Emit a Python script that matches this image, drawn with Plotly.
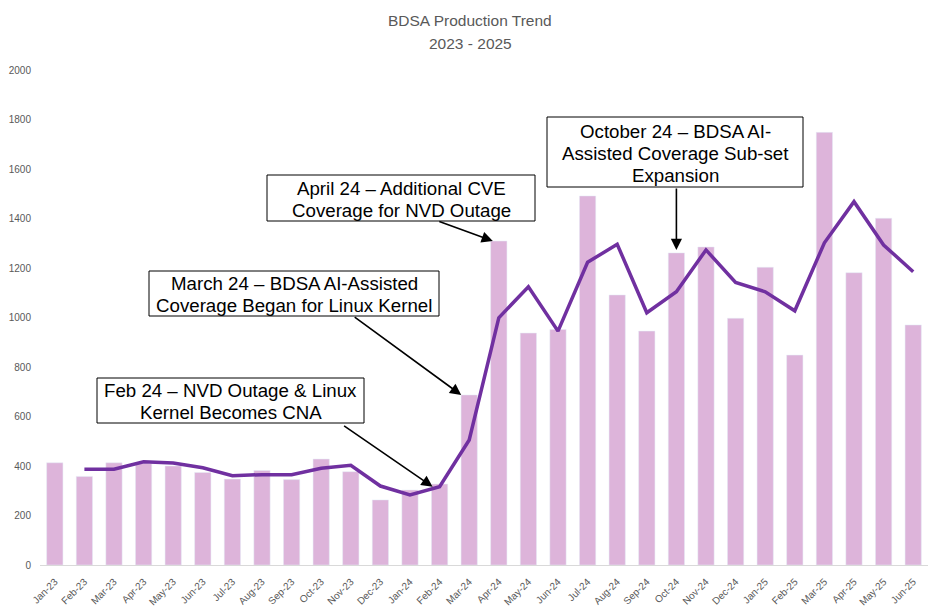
import plotly.graph_objects as go

MONTHS = [
    "Jan-23", "Feb-23", "Mar-23", "Apr-23", "May-23", "Jun-23",
    "Jul-23", "Aug-23", "Sep-23", "Oct-23", "Nov-23", "Dec-23",
    "Jan-24", "Feb-24", "Mar-24", "Apr-24", "May-24", "Jun-24",
    "Jul-24", "Aug-24", "Sep-24", "Oct-24", "Nov-24", "Dec-24",
    "Jan-25", "Feb-25", "Mar-25", "Apr-25", "May-25", "Jun-25",
]
bdsa_counts = [
    413, 358, 413, 410, 400, 374, 347, 382, 345, 428, 377, 263,
    303, 327, 687, 1309, 937, 952, 1491, 1091, 945, 1261, 1285, 997,
    1203, 848, 1748, 1181, 1401, 970,
]
# trend line (starts at Feb-23)
trend_counts = [
    None, 387, 387, 417, 412, 393, 361, 365, 365, 391, 403, 319,
    283, 316, 505, 999, 1124, 945, 1223, 1296, 1019, 1104, 1273, 1142,
    1104, 1027, 1302, 1468, 1293, 1185,
]
y_ticks = [0, 200, 400, 600, 800, 1000, 1200, 1400, 1600, 1800, 2000]
title_lines = ["BDSA Production Trend", "2023 - 2025"]

BAR_COLOR = "#DDB4DA"
LINE_COLOR = "#7030A0"
GREY = "#595959"
SANS = "Liberation Sans, Arial, sans-serif"
NOTE_FONT = dict(family=SANS, size=18.7, color="black")

W, H = 938, 612
PAGE_OFFSET = 8  # browser body margin
MARGIN = dict(l=32, r=18, t=62, b=55)
PW = W - MARGIN["l"] - MARGIN["r"]
PH = H - MARGIN["t"] - MARGIN["b"]


def to_paper(px, py):
    # page pixel -> paper coords
    fx, fy = px - PAGE_OFFSET, py - PAGE_OFFSET
    return (fx - MARGIN["l"]) / PW, (H - MARGIN["b"] - fy) / PH


fig = go.Figure()
fig.add_trace(go.Bar(x=MONTHS, y=bdsa_counts, marker_color=BAR_COLOR, name="BDSAs"))
fig.add_trace(
    go.Scatter(
        x=MONTHS, y=trend_counts, mode="lines",
        line=dict(color=LINE_COLOR, width=3.5), name="Trend"
    )
)

annotations = []
shapes = []

# title, one annotation per line
for text, py in zip(title_lines, [20, 43]):
    xp, yp = to_paper(470, py)
    annotations.append(dict(
        text=text, xref="paper", yref="paper", x=xp, y=yp,
        xanchor="center", yanchor="middle", showarrow=False,
        font=dict(family=SANS, size=15.5, color=GREY),
    ))

# callout boxes: (lines, left, top, right, bottom) in page pixels
notes = [
    (["Feb 24 – NVD Outage & Linux", "Kernel Becomes CNA"], 97, 378, 364, 423),
    (["March 24 – BDSA AI-Assisted", "Coverage Began for Linux Kernel"], 149, 271, 439, 316),
    (["April 24 – Additional CVE", "Coverage for NVD Outage"], 267, 175, 535, 221),
    (["October 24 – BDSA AI-", "Assisted Coverage Sub-set", "Expansion"], 547, 117, 803, 187),
]
for lines, x0, y0, x1, y1 in notes:
    px0, py0 = to_paper(x0, y0)
    px1, py1 = to_paper(x1, y1)
    shapes.append(dict(
        type="rect", xref="paper", yref="paper",
        x0=px0, y0=py1, x1=px1, y1=py0,
        line=dict(color="black", width=1), fillcolor="white", layer="above",
    ))
    cx = (x0 + x1) / 2
    cy = (y0 + y1) / 2
    n = len(lines)
    for i, line in enumerate(lines):
        ly = cy + (i - (n - 1) / 2) * 22 + 1
        xp, yp = to_paper(cx, ly)
        annotations.append(dict(
            text=line, xref="paper", yref="paper", x=xp, y=yp,
            xanchor="center", yanchor="middle", showarrow=False,
            font=NOTE_FONT,
        ))

# arrows: tip on data, tail offset in pixels
arrows = [
    ("Feb-24", trend_counts[13], -90, -62, -7),
    ("Mar-24", bdsa_counts[14], -108, -79, -8),
    ("Apr-24", bdsa_counts[15], -55, -20, -6),
    ("Oct-24", bdsa_counts[21] + 12, 0, -63, 0),
]
for xv, yv, ax, ay, xs in arrows:
    annotations.append(dict(
        x=xv, y=yv, xref="x", yref="y", text="", showarrow=True,
        ax=ax, ay=ay, xshift=xs, arrowhead=2, arrowsize=1.4, arrowwidth=1.6,
        arrowcolor="black", standoff=0,
    ))

fig.update_layout(
    width=W, height=H, margin=MARGIN,
    paper_bgcolor="white", plot_bgcolor="white",
    showlegend=False, bargap=0.45,
    annotations=annotations, shapes=shapes,
)
fig.update_xaxes(
    type="category", tickangle=-45, showgrid=False,
    showline=True, linecolor="#D9D9D9", linewidth=1, ticks="",
    ticklabelstandoff=6, automargin=False,
    tickfont=dict(family=SANS, size=10, color=GREY),
    range=[-0.5, len(MONTHS) - 0.5],
)
fig.update_yaxes(
    range=[0, 2000], tickvals=y_ticks, showgrid=False, zeroline=False,
    showline=False, ticks="", ticklabelstandoff=8, automargin=False,
    tickfont=dict(family=SANS, size=10, color=GREY),
)

fig.write_html("out.html")
